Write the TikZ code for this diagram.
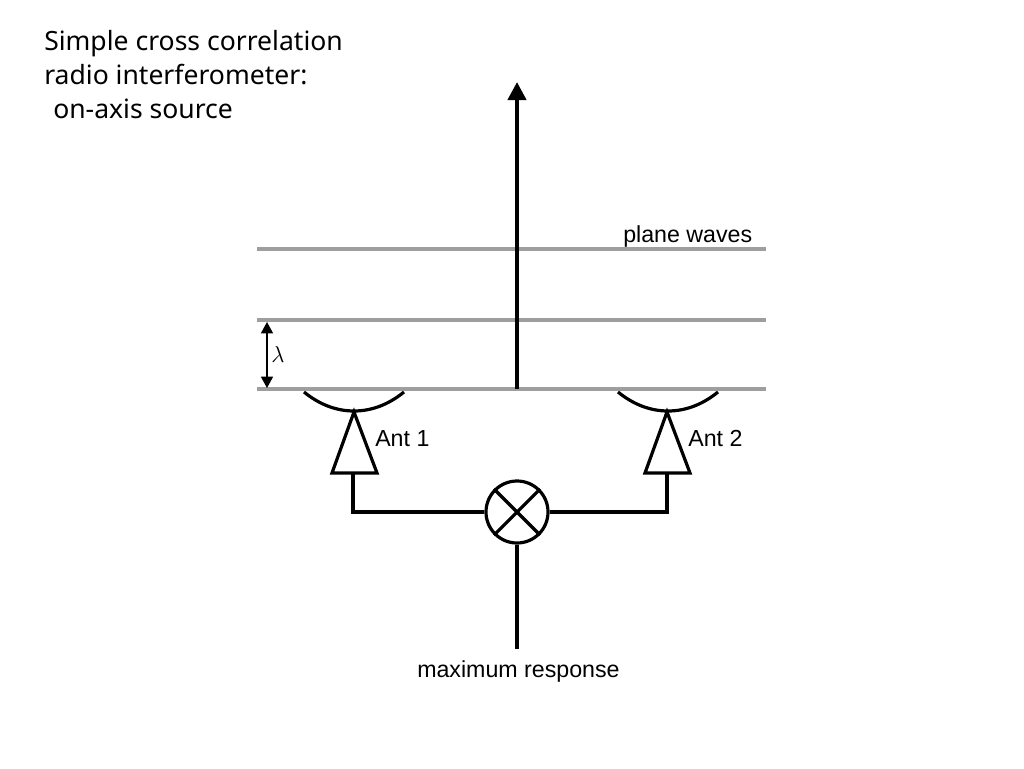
\documentclass[tikz,border=0pt]{standalone}
\usepackage{fontspec}
\setmainfont{Liberation Sans}
\newfontfamily\titlefont{Noto Sans}
\usetikzlibrary{arrows.meta,shapes.geometric}
\tikzset{
  x=0.75pt,y=-0.75pt,
  wave/.style={draw=black!38,line width=2.5pt},
  wire/.style={draw=black,line width=2.4pt},
  thinwire/.style={draw=black,line width=1.1pt},
  title/.style={anchor=base west,inner sep=0,font=\titlefont\fontsize{19.9}{19.9}\selectfont},
  lab/.style={anchor=base west,inner sep=0,font=\fontsize{17.4}{17.4}\selectfont},
  bigarrow/.style={draw=black,line width=3pt,-{Triangle[length=13.5pt,width=13.5pt]}},
  lamarrow/.style={thinwire,{Triangle[length=8.5pt,width=9pt]}-{Triangle[length=8.5pt,width=9pt]}},
  mixer/.style={circle,draw=black,line width=2.4pt,minimum size=46.5pt,inner sep=0},
  amp/.style={draw=black,line width=2.4pt,line join=miter},
  dish/.style={draw=black,line width=2.4pt},
}
\begin{document}
\begin{tikzpicture}
\useasboundingbox (0,0) rectangle (1024,768);
% plane waves
\coordinate (w1l) at (257,249); \coordinate (w1r) at (766,249);
\coordinate (w2l) at (257,320); \coordinate (w2r) at (766,320);
\coordinate (w3l) at (257,389); \coordinate (w3r) at (766,389);
\draw[wave] (w1l) -- (w1r);
\draw[wave] (w2l) -- (w2r);
\draw[wave] (w3l) -- (w3r);
% propagation
\coordinate (base) at (517,389); \coordinate (tip) at (517,82);
\draw[bigarrow] (base) -- (tip);
% wavelength
\coordinate (la) at (267,322); \coordinate (lb) at (267,388);
\draw[lamarrow] (la) -- (lb);
\node[anchor=center,inner sep=0] (lam) at (278,354) {\fontsize{19}{19}\selectfont $\lambda$};
% mixer
\node[mixer] (mix) at (517,512) {};
\draw[line width=2.4pt] (mix.45) -- (mix.225);
\draw[line width=2.4pt] (mix.135) -- (mix.315);
% antenna 1
\coordinate (a1t) at (354,412); \coordinate (a1l) at (332,473); \coordinate (a1r) at (377,473); \coordinate (a1b) at (353,473);
\coordinate (d1l) at (304,392); \coordinate (d1r) at (404,392);
\draw[amp] (a1t) -- (a1l) -- (a1r) -- cycle;
\draw[dish] (d1l) .. controls (320,405) and (337,411) .. (354,411) .. controls (371,411) and (388,405) .. (d1r);
\draw[wire,line join=miter] (a1b) |- (mix.west);
% antenna 2
\coordinate (a2t) at (667,412); \coordinate (a2l) at (645,473); \coordinate (a2r) at (690,473); \coordinate (a2b) at (667,473);
\coordinate (d2l) at (618,392); \coordinate (d2r) at (718,392);
\draw[amp] (a2t) -- (a2l) -- (a2r) -- cycle;
\draw[dish] (d2l) .. controls (634,405) and (651,411) .. (668,411) .. controls (685,411) and (702,405) .. (d2r);
\draw[wire,line join=miter] (a2b) |- (mix.east);
% output
\coordinate (out) at (517,649);
\draw[wire] (mix.south) -- (out);
% labels
\node[title] (t1) at (44,50) {Simple cross correlation};
\node[title] (t2) at (44,84) {radio interferometer:};
\node[title] (t3) at (53,118) {on-axis source};
\node[lab] (pw) at (623,242) {plane waves};
\node[lab] (an1) at (375,446) {Ant 1};
\node[lab] (an2) at (688,446) {Ant 2};
\node[lab] (mr) at (417,677) {maximum response};
\end{tikzpicture}
\end{document}
